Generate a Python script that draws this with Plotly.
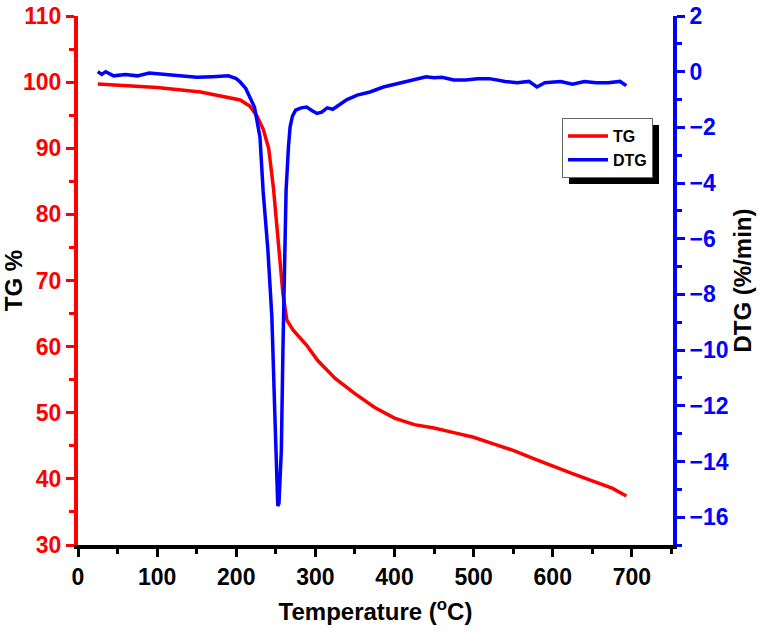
import plotly.graph_objects as go

# ---- data ----
tg_temp = [25, 50, 100, 155, 205, 217, 226, 234, 241, 247, 254, 259, 264, 272, 289, 303,
           325, 350, 375, 400, 425, 450, 475, 500, 525, 550, 575, 600, 625, 650, 675, 693]
tg_val = [99.7, 99.5, 99.2, 98.5, 97.3, 96.4, 94.9, 92.9, 90.0, 84.0, 74.5, 68.0, 64.0, 62.5,
          60.2, 57.9, 55.2, 52.9, 50.8, 49.2, 48.2, 47.7, 47.0, 46.3, 45.3, 44.3, 43.1, 41.9,
          40.8, 39.7, 38.6, 37.4]

dtg_temp = [25, 30, 35, 45, 60, 75, 90, 110, 130, 150, 170, 190, 200, 205, 212, 217, 223, 230,
            234, 240, 245, 249, 251, 252.5, 254, 257, 259, 261, 263, 266, 268, 271, 275, 282,
            289, 296, 302, 308, 315, 322, 327, 335, 340, 353, 369, 386, 400, 407, 420, 440,
            450, 460, 475, 490, 505, 520, 540, 555, 570, 580, 590, 610, 625, 640, 655, 670,
            685, 693]
dtg_val = [0.0, -0.1, 0.0, -0.15, -0.1, -0.15, -0.05, -0.1, -0.12, -0.2, -0.18, -0.15, -0.25,
           -0.37, -0.6, -0.9, -1.27, -2.35, -4.3, -6.4, -8.8, -12.5, -14.8, -15.6, -15.5, -13.6,
           -10.0, -6.4, -4.25, -2.7, -2.0, -1.6, -1.38, -1.3, -1.27, -1.4, -1.5, -1.45, -1.3,
           -1.35, -1.25, -1.1, -1.0, -0.84, -0.73, -0.55, -0.45, -0.4, -0.3, -0.18, -0.22, -0.2,
           -0.3, -0.3, -0.25, -0.25, -0.35, -0.4, -0.35, -0.55, -0.4, -0.35, -0.45, -0.35, -0.4,
           -0.4, -0.35, -0.5]

x_range = [0, 752]
tg_range = [30, 110]
dtg_range = [-17, 2]

FONT = "Liberation Sans, Arial, sans-serif"

W, H = 761, 639
L, R, T, B = 78, 88, 16, 94
PW = W - L - R
PH = H - T - B

fig = go.Figure()
fig.add_trace(go.Scatter(x=tg_temp, y=tg_val, mode="lines", name="<b>TG</b>",
                         line=dict(color="#ff0000", width=3.5)))
fig.add_trace(go.Scatter(x=dtg_temp, y=dtg_val, mode="lines", name="<b>DTG</b>", yaxis="y2",
                         line=dict(color="#0000ff", width=3.5)))

tickfont = dict(family=FONT, size=23, weight="bold")
titlefont = dict(family=FONT, size=24, color="black", weight="bold")

# legend box position in page px
LX0, LY0 = 562, 118
LWID, LHEI = 90, 59
fig.update_layout(
    width=W, height=H,
    margin=dict(l=L, r=R, t=T, b=B),
    paper_bgcolor="white", plot_bgcolor="white",
    showlegend=True,
    legend=dict(x=(LX0 - L) / PW, y=1 - (LY0 - T) / PH, xanchor="left", yanchor="top",
                bgcolor="white", bordercolor="#666666", borderwidth=1,
                font=dict(family=FONT, size=16, color="black", weight="bold"),
                tracegroupgap=0, itemwidth=40),
    xaxis=dict(range=x_range, dtick=100, tick0=0, showgrid=False, zeroline=False,
               automargin=False,
               showline=True, linecolor="black", linewidth=4,
               ticks="outside", ticklen=8, tickwidth=3, tickcolor="black",
               minor=dict(ticks="outside", ticklen=5, tickwidth=3, dtick=50, tickcolor="black"),
               tickprefix="<b>", ticksuffix="</b>",
               tickfont=dict(tickfont, color="black"),
               title=dict(text="<b>Temperature (<sup>o</sup>C)</b>", font=titlefont,
                          standoff=16)),
    xaxis2=dict(range=x_range, overlaying="x", side="top", anchor="y", dtick=100, tick0=0,
                showgrid=False, zeroline=False, showticklabels=False, automargin=False,
                showline=True, linecolor="black", linewidth=4,
                ticks="inside", ticklen=7, tickwidth=2, tickcolor="black",
                minor=dict(ticks="inside", ticklen=4, tickwidth=2, dtick=50, tickcolor="black")),
    yaxis=dict(range=tg_range, dtick=10, tick0=30, showgrid=False, zeroline=False,
               automargin=False,
               showline=True, linecolor="#ff0000", linewidth=4,
               ticks="outside", ticklen=8, tickwidth=3, tickcolor="#ff0000",
               minor=dict(ticks="outside", ticklen=5, tickwidth=3, dtick=5, tickcolor="#ff0000"),
               tickprefix="<b>", ticksuffix="</b>",
               tickfont=dict(tickfont, color="#ff0000"),
               title=dict(text="<b>TG %</b>", font=titlefont, standoff=2)),
    yaxis2=dict(range=dtg_range, dtick=2, tick0=0, overlaying="y", side="right", anchor="x",
                showgrid=False, zeroline=False, automargin=False,
                showline=True, linecolor="#0000ff", linewidth=4,
                ticks="outside", ticklen=8, tickwidth=3, tickcolor="#0000ff",
                minor=dict(ticks="outside", ticklen=5, tickwidth=3, dtick=1, tickcolor="#0000ff"),
                tickprefix="<b>", ticksuffix="</b>",
                tickfont=dict(tickfont, color="#0000ff"),
                title=dict(text="<b>DTG (%/min)</b>", font=titlefont, standoff=6)),
    shapes=[dict(type="rect", xref="paper", yref="paper",
                 x0=(LX0 + 7 - L) / PW, x1=(LX0 + LWID + 7 - L) / PW,
                 y0=1 - (LY0 + LHEI + 7 - T) / PH, y1=1 - (LY0 + 7 - T) / PH,
                 fillcolor="black", line=dict(width=0), layer="above")],
)

# remove the browser's default 8px body margin so the figure fills the window exactly
fig.write_html("out.html", config={"displayModeBar": False},
               post_script="document.body.style.margin='0px';")
